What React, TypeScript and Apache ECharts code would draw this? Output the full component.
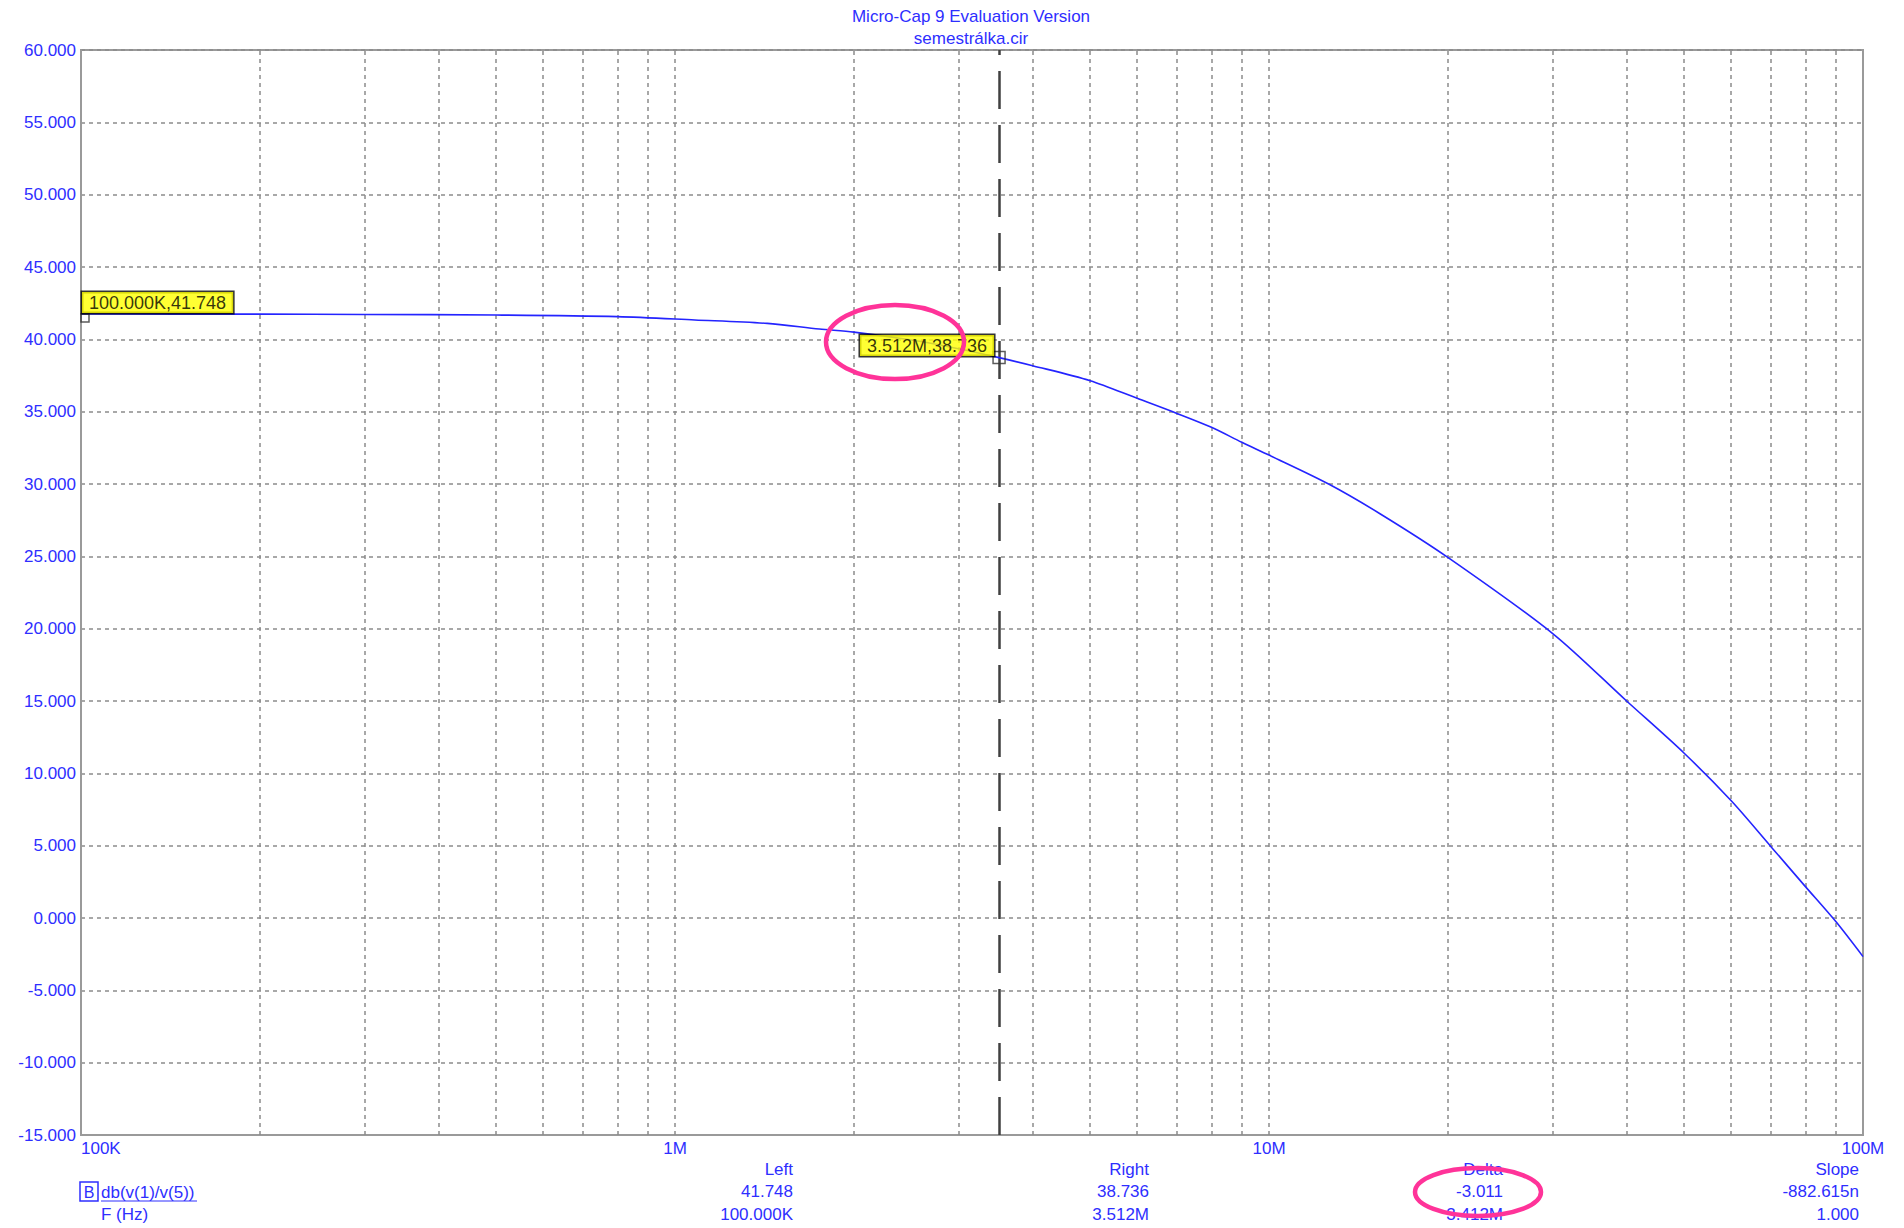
import React, { useEffect, useRef } from 'react';
import * as echarts from 'echarts';

// ---- data ----
const frequencies = [1e5, 2e5, 3e5, 5e5, 8e5, 1.08e6, 1.43e6, 1.75e6, 2e6, 2.5e6, 3e6, 3.512e6, 4e6, 5e6, 6e6, 7e6, 8e6, 9e6, 1e7, 1.26e7, 1.54e7, 2e7, 3e7, 4e7, 5e7, 6e7, 7e7, 8e7, 9e7, 1e8];
const gainDb = [41.748, 41.74, 41.72, 41.68, 41.57, 41.34, 41.1, 40.71, 40.5, 39.95, 39.35, 38.736, 38.18, 37.14, 35.92, 34.88, 33.92, 32.88, 32.0, 30.0, 27.93, 24.93, 19.68, 15.0, 11.39, 8.1, 4.93, 2.17, -0.25, -2.67];

const xGridLines = [2e5, 3e5, 4e5, 5e5, 6e5, 7e5, 8e5, 9e5, 1e6, 2e6, 3e6, 4e6, 5e6, 6e6, 7e6, 8e6, 9e6, 1e7, 2e7, 3e7, 4e7, 5e7, 6e7, 7e7, 8e7, 9e7];
const xTickValues = [1e5, 1e6, 1e7, 1e8];
const xTickLabels = ['100K', '1M', '10M', '100M'];

const cursorFreq = 3.512e6;
const markerPoints = [[1e5, 41.748], [3.512e6, 38.736]];
const markerLabels = ['100.000K,41.748', '3.512M,38.736'];

const titleLines = ['Micro-Cap 9 Evaluation Version', 'semestrálka.cir'];
const readoutHeaders = ['Left', 'Right', 'Delta', 'Slope'];
const readoutValues = ['41.748', '38.736', '-3.011', '-882.615n'];
const readoutFreqs = ['100.000K', '3.512M', '3.412M', '1.000'];
const traceName = 'db(v(1)/v(5))';
const xAxisName = 'F (Hz)';

const BLUE = '#2e2eff';
const FONT = 'Liberation Sans, Arial, sans-serif';

export default function App() {
  const ref = useRef<HTMLDivElement>(null);

  useEffect(() => {
    const chart = echarts.init(ref.current!, null, { renderer: 'svg' });

    const lineData = frequencies.map((f, i) => [f, gainDb[i]]);
    const readoutX = [793, 1149, 1503, 1859];
    const rowY = [1169, 1191, 1214];

    const graphics: any[] = [];
    titleLines.forEach((t, i) => {
      graphics.push({
        type: 'text',
        x: 971,
        y: 16 + i * 22,
        z: 50,
        style: { text: t, align: 'center', verticalAlign: 'middle', fill: BLUE, fontSize: 17, fontFamily: FONT },
      });
    });
    readoutHeaders.forEach((h, i) => {
      [h, readoutValues[i], readoutFreqs[i]].forEach((t, r) => {
        graphics.push({
          type: 'text',
          x: readoutX[i],
          y: rowY[r],
          z: 50,
          style: { text: t, align: 'right', verticalAlign: 'middle', fill: BLUE, fontSize: 17, fontFamily: FONT },
        });
      });
    });
    graphics.push(
      { type: 'rect', shape: { x: 80, y: 1182, width: 18, height: 19 }, z: 50, style: { fill: 'none', stroke: BLUE, lineWidth: 1.5 } },
      { type: 'text', x: 89, y: 1192, z: 50, style: { text: 'B', align: 'center', verticalAlign: 'middle', fill: BLUE, fontSize: 16, fontFamily: FONT } },
      { type: 'text', x: 101, y: 1192, z: 50, style: { text: traceName, align: 'left', verticalAlign: 'middle', fill: BLUE, fontSize: 17, fontFamily: FONT } },
      { type: 'line', shape: { x1: 101, y1: 1201, x2: 197, y2: 1201 }, z: 50, style: { stroke: BLUE, lineWidth: 1 } },
      { type: 'text', x: 101, y: 1214, z: 50, style: { text: xAxisName, align: 'left', verticalAlign: 'middle', fill: BLUE, fontSize: 17, fontFamily: FONT } },
      { type: 'ellipse', shape: { cx: 895, cy: 342, rx: 69, ry: 37 }, z: 100, style: { fill: 'none', stroke: '#ff3399', lineWidth: 4.5 } },
      { type: 'ellipse', shape: { cx: 1478, cy: 1192, rx: 63, ry: 24 }, z: 100, style: { fill: 'none', stroke: '#ff3399', lineWidth: 4.5 } }
    );

    const option: any = {
      animation: false,
      backgroundColor: '#ffffff',
      textStyle: { fontFamily: FONT },
      grid: {
        left: 81,
        top: 50,
        width: 1782,
        height: 1085,
        show: true,
        borderColor: '#9a9a9a',
        borderWidth: 2,
        backgroundColor: '#ffffff',
        containLabel: false,
        outerBoundsMode: 'none',
      },
      xAxis: {
        type: 'log',
        logBase: 10,
        min: 1e5,
        max: 1e8,
        axisLine: { show: true, onZero: false, lineStyle: { color: '#9a9a9a', width: 2 } },
        axisTick: { show: false },
        splitLine: { show: false },
        axisLabel: {
          color: BLUE,
          fontSize: 17,
          fontFamily: FONT,
          margin: 5,
          showMinLabel: true,
          showMaxLabel: true,
          alignMinLabel: 'left',
          alignMaxLabel: 'center',
          formatter: (v: number) => {
            const idx = xTickValues.findIndex((t) => Math.abs(Math.log10(t) - Math.log10(v)) < 1e-6);
            return idx >= 0 ? xTickLabels[idx] : '';
          },
        },
      },
      yAxis: {
        type: 'value',
        min: -15,
        max: 60,
        interval: 5,
        axisLine: { show: true, onZero: false, lineStyle: { color: '#9a9a9a', width: 2 } },
        axisTick: { show: false },
        splitLine: { show: true, lineStyle: { color: '#8c8c8c', type: [4, 4], width: 1.5 } },
        axisLabel: {
          color: BLUE,
          fontSize: 17,
          fontFamily: FONT,
          margin: 5,
          formatter: (v: number) => v.toFixed(3),
        },
      },
      series: [
        {
          type: 'line',
          name: traceName,
          data: lineData,
          showSymbol: false,
          symbol: 'none',
          smooth: 0.3,
          lineStyle: { color: '#2424ff', width: 1.6 },
          z: 4,
          markLine: {
            silent: true,
            symbol: ['none', 'none'],
            label: { show: false },
            lineStyle: { color: '#8c8c8c', type: [4, 4], width: 1.5 },
            z: 1,
            data: [
              ...xGridLines.map((v) => ({ xAxis: v })),
              { xAxis: cursorFreq, lineStyle: { color: '#404040', type: [38, 16], width: 2.5 } },
            ],
          },
        },
        {
          type: 'scatter',
          clip: false,
          silent: true,
          symbol: 'rect',
          z: 6,
          itemStyle: { color: 'rgba(255,255,255,0)', borderColor: '#333333', borderWidth: 1.5 },
          data: [
            { value: markerPoints[0], symbolSize: 8, symbolOffset: [4, 4] },
            { value: markerPoints[1], symbolSize: 12 },
          ],
        },
        {
          type: 'scatter',
          clip: false,
          silent: true,
          symbolSize: 1,
          z: 7,
          itemStyle: { color: 'rgba(0,0,0,0)' },
          label: {
            show: true,
            position: 'inside',
            verticalAlign: 'bottom',
            formatter: (p: any) => markerLabels[p.dataIndex],
            backgroundColor: '#ffff00',
            borderColor: '#000000',
            borderWidth: 1.5,
            padding: [2, 7, 1, 7],
            color: '#000000',
            fontSize: 18,
            fontFamily: FONT,
          },
          data: [
            { value: markerPoints[0], label: { align: 'left', offset: [1, -1] } },
            { value: markerPoints[1], label: { align: 'right', offset: [-5, -1.5] } },
          ],
        },
      ],
      graphic: graphics,
    };

    chart.setOption(option);
    return () => chart.dispose();
  }, []);

  return (
    <div
      ref={ref}
      style={{ position: 'absolute', left: 0, top: 0, width: 1904, height: 1228, background: '#ffffff' }}
    />
  );
}
